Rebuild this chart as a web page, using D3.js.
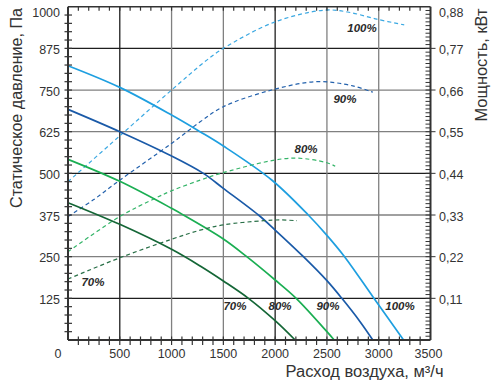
<!DOCTYPE html>
<html><head><meta charset="utf-8">
<script src="https://cdn.jsdelivr.net/npm/d3@7"></script>
<style>body{margin:0;background:#fff}svg{display:block}</style>
</head><body><svg id="c" width="491" height="385"></svg>
<script>
// ---- data ----
const speedLabels = ["100%", "90%", "80%", "70%"];
// static pressure curves (Pa) vs flow (m3/h)
const flow100 = [0, 500, 1000, 1275, 1500, 1967, 2320, 2500, 2670, 2950, 3240];
const pres100 = [823, 758, 675, 625, 582, 480, 375, 314, 250, 127, 0];
const flow90 = [0, 500, 1000, 1307, 1500, 1839, 2000, 2273, 2500, 2644, 2820, 2943];
const pres90 = [692, 625, 552, 500, 455, 375, 330, 250, 178, 125, 55, 0];
const flow80 = [0, 500, 1000, 1114, 1500, 1726, 2000, 2203, 2500, 2570];
const pres80 = [542, 476, 395, 375, 303, 250, 180, 125, 25, 0];
const flow70 = [0, 500, 1000, 1276, 1500, 1742, 2000, 2193];
const pres70 = [412, 347, 272, 222, 177, 125, 58, 0];
// power curves (kW) vs flow (m3/h)
const pflow100 = [0, 500, 1000, 1340, 1500, 2000, 2480, 2700, 2982, 3246];
const power100 = [0.418, 0.539, 0.660, 0.739, 0.770, 0.840, 0.871, 0.866, 0.847, 0.832];
const pflow90 = [0, 245, 500, 1000, 1276, 1500, 1967, 2400, 2750, 2943];
const power90 = [0.326, 0.370, 0.422, 0.519, 0.576, 0.616, 0.660, 0.682, 0.671, 0.654];
const pflow80 = [0, 500, 841, 1000, 1276, 1500, 2145, 2500, 2580];
const power80 = [0.233, 0.326, 0.374, 0.394, 0.422, 0.442, 0.480, 0.468, 0.459];
const pflow70 = [0, 500, 1000, 1276, 1500, 1887, 2050, 2209];
const power70 = [0.161, 0.217, 0.266, 0.290, 0.304, 0.315, 0.317, 0.315];
// axes
const xTicks = [0, 500, 1000, 1500, 2000, 2500, 3000, 3500];
const yTicks = [125, 250, 375, 500, 625, 750, 875, 1000];
const yRTicks = [0.11, 0.22, 0.33, 0.44, 0.55, 0.66, 0.77, 0.88];
const xTitle = "Расход воздуха, м³/ч";
const yTitle = "Статическое давление, Па";
const yRTitle = "Мощность, кВт";

// ---- drawing ----
const svg = d3.select("#c");
const x = d3.scaleLinear().domain([0, 3500]).range([68, 430.5]);
const y = d3.scaleLinear().domain([0, 1000]).range([340, 6.7]);
const yR = d3.scaleLinear().domain([0, 0.88]).range([340, 6.7]);
const colors = ["#1e9fe0", "#1a5aa8", "#1aae52", "#146636"];
const dashColors = ["#3aa8e2", "#2462ad", "#34b468", "#2a7048"];
const font = "'Liberation Sans', Arial, sans-serif";
const textCol = "#333";

// grid
const g = svg.append("g");
yTicks.filter(v => v < 1000).forEach((v, i) => {
  g.append("line").attr("x1", x(0)).attr("x2", x(3500)).attr("y1", y(v)).attr("y2", y(v))
    .attr("stroke", i % 3 === 0 ? "#1e1e1e" : "#808080").attr("stroke-width", 1.3);
});
xTicks.filter(v => v > 0 && v < 3500).forEach((v, i) => {
  g.append("line").attr("y1", y(0)).attr("y2", y(1000)).attr("x1", x(v)).attr("x2", x(v))
    .attr("stroke", i % 3 === 0 ? "#1e1e1e" : "#808080").attr("stroke-width", 1.3);
});

// curves
const pFlows = [flow100, flow90, flow80, flow70];
const pVals = [pres100, pres90, pres80, pres70];
const wFlows = [pflow100, pflow90, pflow80, pflow70];
const wVals = [power100, power90, power80, power70];
const curve = d3.curveCatmullRom.alpha(0.5);
const lineP = d3.line().x(d => x(d[0])).y(d => y(d[1])).curve(curve);
const lineW = d3.line().x(d => x(d[0])).y(d => yR(d[1])).curve(curve);
for (let i = 0; i < 4; i++) {
  svg.append("path").datum(wFlows[i].map((f, j) => [f, wVals[i][j]]))
    .attr("d", lineW).attr("fill", "none").attr("stroke", dashColors[i])
    .attr("stroke-width", 1.2).attr("stroke-dasharray", "4,3");
  svg.append("path").datum(pFlows[i].map((f, j) => [f, pVals[i][j]]))
    .attr("d", lineP).attr("fill", "none").attr("stroke", colors[i])
    .attr("stroke-width", 1.7);
}

// axes frame
const ax = svg.append("g").attr("stroke", "#333");
ax.append("line").attr("x1", x(0)).attr("x2", x(0)).attr("y1", y(0)).attr("y2", y(1000)).attr("stroke-width", 2);
ax.append("line").attr("x1", x(0)).attr("x2", x(3500)).attr("y1", y(0)).attr("y2", y(0)).attr("stroke-width", 2);
ax.append("line").attr("x1", x(0)).attr("x2", x(3500)).attr("y1", y(1000)).attr("y2", y(1000)).attr("stroke-width", 1.5);
ax.append("line").attr("x1", x(3500)).attr("x2", x(3500)).attr("y1", y(0)).attr("y2", y(1000)).attr("stroke-width", 2);

// minor ticks
d3.range(25, 1000, 25).forEach(v => {
  ax.append("line").attr("x1", x(0) - 3.5).attr("x2", x(0) + 4).attr("y1", y(v)).attr("y2", y(v)).attr("stroke-width", 1.2);
});
d3.range(100, 3500, 100).forEach(v => {
  ax.append("line").attr("x1", x(v)).attr("x2", x(v)).attr("y1", y(0) - 3.5).attr("y2", y(0) + 5).attr("stroke-width", 1.2);
  ax.append("line").attr("x1", x(v)).attr("x2", x(v)).attr("y1", y(1000)).attr("y2", y(1000) + 4).attr("stroke-width", 1.2);
});
d3.range(1, 88).forEach(k => {
  const v = k / 100;
  const major = k % 11 === 0;
  ax.append("line").attr("x1", x(3500) - 5).attr("x2", x(3500) + (major ? 5 : 0))
    .attr("y1", yR(v)).attr("y2", yR(v)).attr("stroke-width", 1);
});

// tick labels
const tl = svg.append("g").attr("font-family", font).attr("font-size", 12.5).attr("fill", textCol);
yTicks.forEach(v => {
  tl.append("text").attr("x", 60).attr("y", y(v) + (v === 1000 ? 6.5 : 1.5))
    .attr("text-anchor", "end").attr("dominant-baseline", "central").text(v);
});
yRTicks.forEach(v => {
  tl.append("text").attr("x", 439).attr("y", yR(v) + (v === 0.88 ? 6.5 : 1.5))
    .attr("text-anchor", "start").attr("dominant-baseline", "central").text(v.toFixed(2).replace(".", ","));
});
xTicks.forEach(v => {
  tl.append("text").attr("x", v === 0 ? x(0) - 10 : (v === 3500 ? x(v) - 2 : x(v)))
    .attr("y", 353.5).attr("text-anchor", "middle").attr("dominant-baseline", "central").text(v);
});

// axis titles
const tt = svg.append("g").attr("font-family", font).attr("font-size", 16).attr("fill", textCol);
tt.append("text").attr("x", 364.5).attr("y", 371).attr("text-anchor", "middle").attr("dominant-baseline", "central")
  .attr("textLength", 158).attr("lengthAdjust", "spacingAndGlyphs").text(xTitle);
tt.append("text").attr("transform", "translate(16,108) rotate(-90)").attr("text-anchor", "middle").attr("dominant-baseline", "central")
  .attr("textLength", 200).attr("lengthAdjust", "spacingAndGlyphs").text(yTitle);
tt.append("text").attr("transform", "translate(481,65) rotate(-90)").attr("text-anchor", "middle").attr("dominant-baseline", "central")
  .attr("textLength", 113).attr("lengthAdjust", "spacingAndGlyphs").text(yRTitle);

// curve labels: power curves and pressure curves
const lb = svg.append("g").attr("font-family", font).attr("font-size", 11.5).attr("font-weight", "bold")
  .attr("font-style", "italic").attr("fill", "#2a2a2a").attr("text-anchor", "middle").attr("dominant-baseline", "central");
const powerLabelAt = [[2839, 0.824], [2674, 0.636], [2298, 0.504], [241, 0.153]];
const presLabelAt = [[3206, 102], [2510, 102], [2047, 102], [1612, 102]];
speedLabels.forEach((s, i) => {
  lb.append("text").attr("x", x(powerLabelAt[i][0])).attr("y", yR(powerLabelAt[i][1])).text(s);
  lb.append("text").attr("x", x(presLabelAt[i][0])).attr("y", y(presLabelAt[i][1])).text(s);
});
</script></body></html>
